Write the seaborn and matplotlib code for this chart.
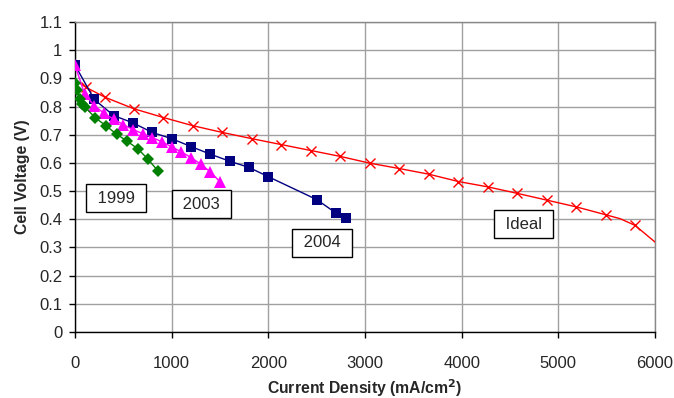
import matplotlib
matplotlib.use("Agg")
import matplotlib.pyplot as plt
import seaborn as sns
import pandas as pd

# ---- data ----
x1999 = [5, 20, 50, 75, 100, 210, 320, 430, 540, 650, 750, 860]
y1999 = [0.885, 0.86, 0.826, 0.81, 0.799, 0.76, 0.732, 0.702, 0.677, 0.65, 0.615, 0.571]

x2003 = [0, 100, 200, 300, 400, 500, 600, 700, 800, 900, 1000, 1100, 1200, 1300, 1400, 1500]
y2003 = [0.947, 0.844, 0.803, 0.776, 0.755, 0.736, 0.718, 0.704, 0.690, 0.675, 0.657,
         0.639, 0.619, 0.596, 0.568, 0.533]

x2004 = [0, 200, 400, 600, 800, 1000, 1200, 1400, 1600, 1800, 2000, 2500, 2700, 2800]
y2004 = [0.947, 0.825, 0.768, 0.742, 0.708, 0.686, 0.658, 0.631, 0.606, 0.584, 0.551,
         0.470, 0.422, 0.404]

x_ideal = [40, 110, 310, 610, 915, 1220, 1525, 1830, 2135, 2440, 2745, 3050, 3355, 3660,
           3965, 4270, 4575, 4880, 5185, 5490, 5640, 5795, 6050]
y_ideal = [0.885, 0.869, 0.833, 0.792, 0.761, 0.732, 0.708, 0.686, 0.665, 0.644, 0.623,
           0.599, 0.580, 0.560, 0.534, 0.515, 0.492, 0.468, 0.444, 0.416, 0.402, 0.378, 0.305]
ideal_marked = [i for i in range(len(x_ideal)) if i not in (0, 20, 22)]

labels = ["1999", "2003", "2004", "Ideal"]
label_x = [424, 1310, 2552, 4638]
label_y = [0.475, 0.454, 0.316, 0.383]

xticks = [0, 1000, 2000, 3000, 4000, 5000, 6000]
yticks = [0, 0.1, 0.2, 0.3, 0.4, 0.5, 0.6, 0.7, 0.8, 0.9, 1.0, 1.1]

# ---- plot ----
sns.set_style("white")
plt.rcParams['font.family'] = ['Liberation Sans', 'DejaVu Sans']

fig = plt.figure(figsize=(6.74, 3.98), dpi=100)
ax = fig.add_axes([75 / 674, 1 - 332 / 398, 580 / 674, 310 / 398])

df_i = pd.DataFrame({"x": x_ideal, "y": y_ideal})
sns.lineplot(data=df_i, x="x", y="y", ax=ax, color="#FF0000", lw=1, sort=False,
             estimator=None, marker="x", markersize=7, markeredgewidth=1,
             markeredgecolor="#FF0000", markevery=ideal_marked, zorder=3)

df_04 = pd.DataFrame({"x": x2004, "y": y2004})
sns.lineplot(data=df_04, x="x", y="y", ax=ax, color="#000080", lw=1, sort=False,
             estimator=None, marker="s", markersize=6.5, markeredgewidth=0, zorder=4)

df_03 = pd.DataFrame({"x": x2003, "y": y2003})
sns.lineplot(data=df_03, x="x", y="y", ax=ax, color="#FF00FF", lw=1, sort=False,
             estimator=None, marker="^", markersize=8, markeredgewidth=0, zorder=5)

df_99 = pd.DataFrame({"x": x1999, "y": y1999})
sns.lineplot(data=df_99, x="x", y="y", ax=ax, color="#008000", lw=1, sort=False,
             estimator=None, marker="D", markersize=6, markeredgewidth=0, zorder=6)

for t, tx, ty in zip(labels, label_x, label_y):
    ax.text(tx, ty, " " + t + " ", fontsize=12, ha="center", va="center", zorder=7,
            bbox=dict(boxstyle="square,pad=0.4", facecolor="white", edgecolor="black", lw=1))

ax.set_xlim(0, 6000)
ax.set_ylim(0, 1.1)
ax.set_xticks(xticks)
ax.set_yticks(yticks)
ax.set_xticklabels([str(v) for v in xticks])
ax.set_yticklabels(["0" if v == 0 else ("1" if v == 1.0 else f"{v:g}") for v in yticks])
ax.grid(True, color="#a0a0a0", lw=1)
ax.set_axisbelow(True)

for s in ["top", "right"]:
    ax.spines[s].set_color("#888888")
    ax.spines[s].set_linewidth(1)
for s in ["left", "bottom"]:
    ax.spines[s].set_color("black")
    ax.spines[s].set_linewidth(1)

ax.tick_params(axis="both", which="major", direction="out", length=4, width=1,
               color="black", labelsize=12, left=True, bottom=True)
ax.tick_params(axis="x", pad=13)
ax.tick_params(axis="y", pad=5)

ax.set_xlabel("Current Density (mA/cm$^{\\mathbf{2}}$)", fontsize=11.3, fontweight="bold",
              labelpad=5)
ax.set_ylabel("Cell Voltage (V)", fontsize=11.3, fontweight="bold", labelpad=7)

fig.savefig("out.png", dpi=100)
